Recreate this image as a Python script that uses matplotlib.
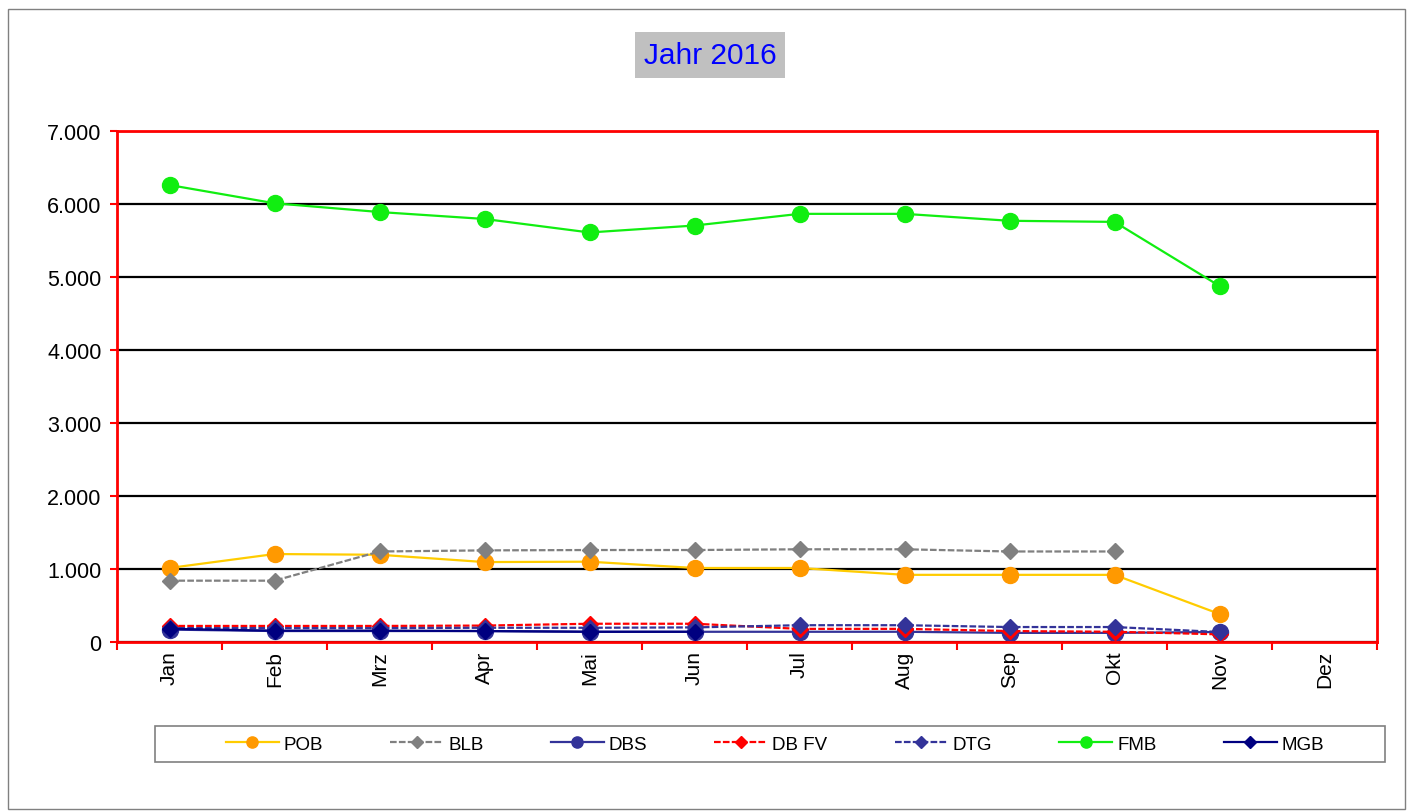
import matplotlib
matplotlib.use("Agg")
import matplotlib.pyplot as plt
from matplotlib.patches import Rectangle
from matplotlib.ticker import FuncFormatter, FixedLocator
import numpy as np

months = ['Jan', 'Feb', 'Mrz', 'Apr', 'Mai', 'Jun', 'Jul', 'Aug', 'Sep', 'Okt', 'Nov', 'Dez']
POB = [1014, 1205, 1195, 1095, 1100, 1014, 1014, 920, 920, 920, 384]
BLB = [840, 840, 1240, 1255, 1260, 1260, 1270, 1270, 1240, 1240]
DBS = [170, 150, 150, 150, 140, 140, 140, 140, 125, 125, 137]
DB_FV = [220, 220, 220, 225, 250, 250, 180, 180, 150, 140, 105]
DTG = [190, 190, 190, 195, 195, 200, 230, 230, 205, 205, 137]
FMB = [6260, 6010, 5890, 5795, 5610, 5705, 5865, 5865, 5770, 5755, 4877]
MGB = [180, 155, 155, 150, 140, 140]
y_ticks = [0, 1000, 2000, 3000, 4000, 5000, 6000, 7000]
title = 'Jahr 2016'

plt.rcParams['font.family'] = ['Liberation Sans', 'DejaVu Sans']

W, H = 1409, 812
fig = plt.figure(figsize=(W / 100, H / 100), dpi=100)
fig.patch.set_facecolor('white')
ax = fig.add_axes([117 / W, 1 - 643 / H, (1377 - 117) / W, (643 - 132) / H])

series = [
    ('POB', POB, dict(color='#FFCC00', marker='o', mfc='#FF9900', mec='#FF9900', ms=11.5, ls='-')),
    ('BLB', BLB, dict(color='#808080', marker='D', mfc='#808080', mec='#808080', ms=8.5, ls=(0, (3, 1)))),
    ('DBS', DBS, dict(color='#333399', marker='o', mfc='#333399', mec='#333399', ms=11.5, ls='-')),
    ('DB FV', DB_FV, dict(color='#FF0000', marker='D', mfc='#FF0000', mec='#FF0000', ms=8.5, ls=(0, (3, 1)))),
    ('DTG', DTG, dict(color='#333399', marker='D', mfc='#333399', mec='#333399', ms=8.5, ls=(0, (3, 1)))),
    ('FMB', FMB, dict(color='#11EE11', marker='o', mfc='#11EE11', mec='#11EE11', ms=11.5, ls='-')),
    ('MGB', MGB, dict(color='#000080', marker='D', mfc='#000080', mec='#000080', ms=8.5, ls='-')),
]
handles = []
for i, (name, vals, st) in enumerate(series):
    x = np.arange(len(vals))
    h, = ax.plot(x, vals, lw=1.6, label=name, zorder=3 + i, clip_on=False, **st)
    handles.append(h)

ax.set_xlim(-0.5, 11.5)
ax.set_ylim(0, 7000)
ax.set_yticks(y_ticks)
ax.yaxis.set_major_formatter(FuncFormatter(lambda v, p: f'{int(v):,}'.replace(',', '.')))
ax.yaxis.grid(True, color='black', lw=1.6)
ax.set_axisbelow(True)

ax.xaxis.set_major_locator(FixedLocator(np.arange(-0.5, 12, 1)))
ax.xaxis.set_minor_locator(FixedLocator(np.arange(12)))
ax.set_xticklabels([], minor=False)
ax.set_xticklabels(months, minor=True, rotation=90, va='top', ha='center')
ax.tick_params(axis='x', which='major', direction='out', length=6, width=1.5, color='#FF0000')
ax.tick_params(axis='x', which='minor', length=0, pad=6, labelsize=15)
ax.tick_params(axis='y', which='major', direction='out', length=5, width=1.5, color='#FF0000', labelsize=15.5, pad=6)

for s in ax.spines.values():
    s.set_color('#FF0000')
    s.set_linewidth(2)
    s.set_zorder(20)

fig.text(710 / W, 1 - 56 / H, title, ha='center', va='center', fontsize=21.5, color='#0000FF',
         bbox=dict(boxstyle='square,pad=0.3', fc='#C0C0C0', ec='none'))

# legend frame
fig.patches.append(Rectangle((155 / W, 1 - 763 / H), (1385 - 155) / W, 36 / H, transform=fig.transFigure,
                             fill=False, ec='#808080', lw=1.2))
leg = fig.legend(handles=handles, loc='center', bbox_to_anchor=(775 / W, 1 - 745 / H), ncol=7,
                 frameon=False, fontsize=13.5, handlelength=2.83, handletextpad=0.27,
                 columnspacing=3.57, markerscale=0.7)

# outer border
fig.patches.append(Rectangle((8 / W, 2 / H), (1405 - 8) / W, (810 - 10) / H, transform=fig.transFigure,
                             fill=False, ec='#808080', lw=1))

fig.savefig('out.png', dpi=100, facecolor='white')
